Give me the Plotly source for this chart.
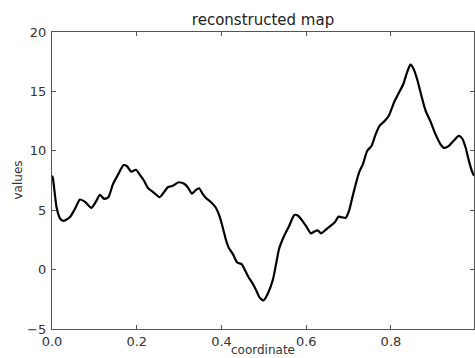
import plotly.graph_objects as go

# Reconstructed map: coordinate vs. value
coordinate = [
    0.000, 0.002, 0.011, 0.019, 0.027, 0.042, 0.054, 0.066, 0.078, 0.093,
    0.105, 0.113, 0.123, 0.133, 0.144, 0.156, 0.169, 0.177, 0.187, 0.198,
    0.207, 0.217, 0.227, 0.238, 0.254, 0.262, 0.274, 0.285, 0.299, 0.313,
    0.321, 0.330, 0.338, 0.347, 0.356, 0.364, 0.376, 0.386, 0.395, 0.403,
    0.411, 0.417, 0.427, 0.437, 0.448, 0.454, 0.464, 0.474, 0.482, 0.489,
    0.499, 0.509, 0.521, 0.529, 0.536, 0.548, 0.560, 0.572, 0.580, 0.591,
    0.599, 0.611, 0.619, 0.627, 0.635, 0.646, 0.658, 0.668, 0.676, 0.685,
    0.693, 0.701, 0.709, 0.717, 0.725, 0.734, 0.744, 0.754, 0.764, 0.773,
    0.785, 0.795, 0.807, 0.819, 0.829, 0.838, 0.846, 0.854, 0.862, 0.871,
    0.882, 0.893, 0.905, 0.917, 0.925, 0.936, 0.948, 0.960, 0.968, 0.976,
    0.984, 0.991, 0.996,
]
values = [
    7.9, 7.7, 5.2, 4.3, 4.1, 4.4, 5.1, 5.9, 5.7, 5.2,
    5.8, 6.3, 5.95, 6.1, 7.2, 8.0, 8.8, 8.7, 8.25, 8.4,
    8.0, 7.5, 6.85, 6.55, 6.1, 6.4, 6.95, 7.05, 7.35, 7.2,
    6.9, 6.4, 6.65, 6.85, 6.35, 6.0, 5.65, 5.25, 4.55, 3.55,
    2.45, 1.85, 1.3, 0.6, 0.45, 0.05, -0.65, -1.2, -1.75, -2.3,
    -2.6, -2.05, -0.9, 0.5, 1.75, 2.85, 3.7, 4.6, 4.55, 4.1,
    3.7, 3.05, 3.2, 3.3, 3.05, 3.35, 3.7, 4.0, 4.45, 4.4,
    4.35, 4.95, 6.1, 7.2, 8.2, 8.9, 10.0, 10.4, 11.4, 12.1,
    12.5, 12.95, 14.05, 14.9, 15.6, 16.6, 17.25, 16.85, 16.0, 14.75,
    13.35, 12.5, 11.4, 10.55, 10.25, 10.4, 10.85, 11.25, 11.05, 10.3,
    9.15, 8.3, 7.9,
]

x_ticks = [0.0, 0.2, 0.4, 0.6, 0.8]
x_tick_labels = ["0.0", "0.2", "0.4", "0.6", "0.8"]
y_ticks = [-5, 0, 5, 10, 15, 20]
y_tick_labels = ["\u22125", "0", "5", "10", "15", "20"]

font_family = "DejaVu Sans"
frame_color = "#555555"
text_color = "#333333"

fig = go.Figure()
fig.add_trace(go.Scatter(
    x=coordinate, y=values, mode="lines",
    line=dict(color="black", width=2.2, shape="spline", smoothing=0.6),
    hoverinfo="skip", showlegend=False,
))

axis_common = dict(
    showline=True, linecolor=frame_color, linewidth=1.3, mirror="ticks",
    ticks="inside", ticklen=4, tickwidth=1, tickcolor=frame_color,
    showgrid=False, zeroline=False,
    tickfont=dict(family=font_family, size=13, color=text_color),
)

fig.update_layout(
    width=475, height=358,
    margin=dict(l=52, r=1, t=32, b=29),
    paper_bgcolor="white", plot_bgcolor="white",
    font=dict(family=font_family, color=text_color),
    title=dict(
        text="reconstructed map", x=0.5, xref="paper",
        y=1 - 20 / 358, yref="container", yanchor="middle", xanchor="center",
        font=dict(family=font_family, size=15, color="#222222"),
    ),
    xaxis=dict(range=[0, 0.996], tickvals=x_ticks, ticktext=x_tick_labels,
               ticklabelstandoff=0, **axis_common),
    yaxis=dict(range=[-5, 20], tickvals=y_ticks, ticktext=y_tick_labels,
               ticklabelstandoff=2, **axis_common),
    annotations=[
        dict(text="coordinate", xref="paper", yref="paper", x=0.5, y=0,
             yshift=-13, xanchor="center", yanchor="top", showarrow=False,
             borderpad=0,
             font=dict(family=font_family, size=12, color=text_color)),
        dict(text="values", xref="paper", yref="paper", x=0, y=0.5,
             xshift=-26, xanchor="right", yanchor="middle", textangle=-90,
             showarrow=False,
             font=dict(family=font_family, size=12, color=text_color)),
    ],
)

fig.write_html("out.html")
